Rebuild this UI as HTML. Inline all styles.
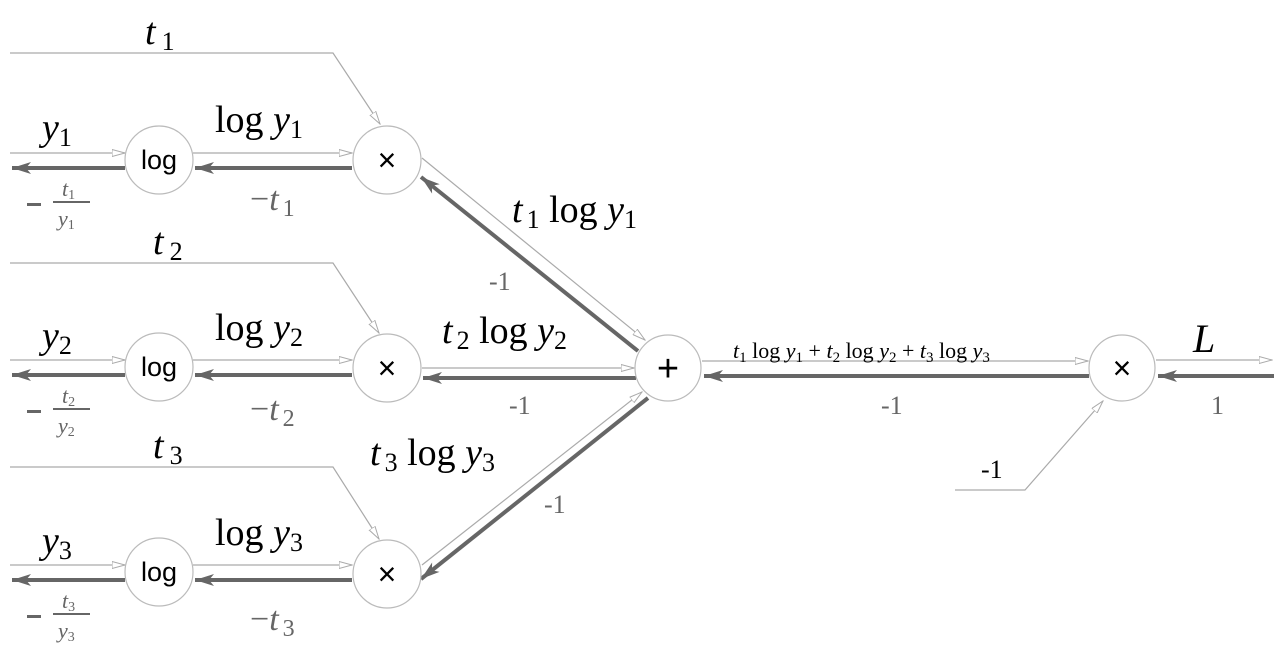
<!DOCTYPE html>
<html><head><meta charset="utf-8"><style>
html,body{margin:0;padding:0;background:#fff}
svg{display:block}
.m{font-family:"Liberation Serif",serif;font-style:italic}
.r{font-family:"Liberation Serif",serif;font-style:normal}
.s{font-family:"Liberation Sans",sans-serif}
</style></head><body>
<svg width="1288" height="660" viewBox="0 0 1288 660" xmlns="http://www.w3.org/2000/svg">
<defs>
<marker id="h" markerWidth="14" markerHeight="8" refX="13" refY="4" orient="auto" markerUnits="userSpaceOnUse"><path d="M0,0.5 L13,4 L0,7.5 Z" fill="#fff" stroke="#aaa" stroke-width="1"/></marker>
<marker id="f" markerWidth="20" markerHeight="12" refX="19" refY="6" orient="auto" markerUnits="userSpaceOnUse"><path d="M0,0 L19,6 L0,12 L5,6 Z" fill="#666"/></marker>
</defs>
<g fill="none" stroke="#aaa" stroke-width="1.2">
<line x1="10" y1="153" x2="125" y2="153" marker-end="url(#h)"/>
<line x1="10" y1="360" x2="125" y2="360" marker-end="url(#h)"/>
<line x1="10" y1="565" x2="125" y2="565" marker-end="url(#h)"/>
<line x1="193" y1="153" x2="352" y2="153" marker-end="url(#h)"/>
<line x1="193" y1="360" x2="352" y2="360" marker-end="url(#h)"/>
<line x1="193" y1="565" x2="352" y2="565" marker-end="url(#h)"/>
<polyline points="10,53 333,53 380,124" marker-end="url(#h)"/>
<polyline points="10,263 333,263 379,333" marker-end="url(#h)"/>
<polyline points="10,467 333,467 379,539" marker-end="url(#h)"/>
<line x1="422" y1="158" x2="645" y2="340" marker-end="url(#h)"/>
<line x1="422" y1="368" x2="634" y2="368" marker-end="url(#h)"/>
<line x1="422" y1="565" x2="642" y2="392" marker-end="url(#h)"/>
<line x1="702" y1="361" x2="1088" y2="361" marker-end="url(#h)"/>
<line x1="1156" y1="360" x2="1272" y2="360" marker-end="url(#h)"/>
<polyline points="955,490 1025,490 1103,401" marker-end="url(#h)"/>
</g>
<g fill="none" stroke="#666" stroke-width="4">
<line x1="125" y1="168" x2="12" y2="168" marker-end="url(#f)"/>
<line x1="125" y1="375" x2="12" y2="375" marker-end="url(#f)"/>
<line x1="125" y1="580" x2="12" y2="580" marker-end="url(#f)"/>
<line x1="352" y1="168" x2="195" y2="168" marker-end="url(#f)"/>
<line x1="352" y1="375" x2="195" y2="375" marker-end="url(#f)"/>
<line x1="352" y1="580" x2="195" y2="580" marker-end="url(#f)"/>
<line x1="638" y1="351" x2="421" y2="177" marker-end="url(#f)"/>
<line x1="636" y1="378" x2="423" y2="378" marker-end="url(#f)"/>
<line x1="648" y1="398" x2="421" y2="579" marker-end="url(#f)"/>
<line x1="1089" y1="376" x2="704" y2="376" marker-end="url(#f)"/>
<line x1="1274" y1="376" x2="1158" y2="376" marker-end="url(#f)"/>
</g>
<g fill="#fff" stroke="#bbb" stroke-width="1.2">
<circle cx="159" cy="160" r="34"/><circle cx="159" cy="367" r="34"/><circle cx="159" cy="572" r="34"/>
<circle cx="387" cy="160" r="34"/><circle cx="387" cy="368" r="34"/><circle cx="387" cy="574" r="34"/>
<circle cx="668" cy="368" r="33"/><circle cx="1122" cy="368" r="33"/>
</g>
<g class="s" font-size="27" text-anchor="middle" fill="#000">
<text x="159" y="169">log</text><text x="159" y="376">log</text><text x="159" y="581">log</text>
<text x="387" y="171" font-size="32">×</text><text x="387" y="379" font-size="32">×</text><text x="387" y="585" font-size="32">×</text>
<text x="668" y="381" font-size="38">+</text><text x="1122" y="379" font-size="32">×</text>
</g>
<g fill="#000" font-size="38">
<text x="145" y="44" class="m">t<tspan class="r" font-size="26" dx="6" dy="6">1</tspan></text>
<text x="153" y="254" class="m">t<tspan class="r" font-size="26" dx="6" dy="6">2</tspan></text>
<text x="153" y="458" class="m">t<tspan class="r" font-size="26" dx="6" dy="6">3</tspan></text>
<text x="42" y="140" class="m">y<tspan class="r" font-size="26" dy="6">1</tspan></text>
<text x="42" y="348" class="m">y<tspan class="r" font-size="26" dy="6">2</tspan></text>
<text x="42" y="553" class="m">y<tspan class="r" font-size="26" dy="6">3</tspan></text>
<text x="215" y="132" class="r">log <tspan class="m">y</tspan><tspan class="r" font-size="26" dy="6">1</tspan></text>
<text x="215" y="340" class="r">log <tspan class="m">y</tspan><tspan class="r" font-size="26" dy="6">2</tspan></text>
<text x="215" y="545" class="r">log <tspan class="m">y</tspan><tspan class="r" font-size="26" dy="6">3</tspan></text>
<text x="512" y="222" class="m">t<tspan class="r" font-size="26" dx="4" dy="6">1</tspan><tspan class="r" dy="-6"> log </tspan>y<tspan class="r" font-size="26" dy="6">1</tspan></text>
<text x="442" y="343" class="m">t<tspan class="r" font-size="26" dx="4" dy="6">2</tspan><tspan class="r" dy="-6"> log </tspan>y<tspan class="r" font-size="26" dy="6">2</tspan></text>
<text x="370" y="465" class="m">t<tspan class="r" font-size="26" dx="4" dy="6">3</tspan><tspan class="r" dy="-6"> log </tspan>y<tspan class="r" font-size="26" dy="6">3</tspan></text>
<text x="1193" y="352" class="m" font-size="40">L</text>
</g>
<text x="733" y="358" class="m" font-size="22" fill="#000">t<tspan class="r" font-size="15" dy="4">1</tspan><tspan class="r" dy="-4"> log </tspan>y<tspan class="r" font-size="15" dy="4">1</tspan><tspan class="r" dy="-4"> + </tspan>t<tspan class="r" font-size="15" dy="4">2</tspan><tspan class="r" dy="-4"> log </tspan>y<tspan class="r" font-size="15" dy="4">2</tspan><tspan class="r" dy="-4"> + </tspan>t<tspan class="r" font-size="15" dy="4">3</tspan><tspan class="r" dy="-4"> log </tspan>y<tspan class="r" font-size="15" dy="4">3</tspan></text>
<g fill="#666">
<text x="250" y="210" class="m" font-size="34"><tspan class="r">−</tspan>t<tspan class="r" font-size="24" dx="4" dy="6">1</tspan></text>
<text x="250" y="420" class="m" font-size="34"><tspan class="r">−</tspan>t<tspan class="r" font-size="24" dx="4" dy="6">2</tspan></text>
<text x="250" y="630" class="m" font-size="34"><tspan class="r">−</tspan>t<tspan class="r" font-size="24" dx="4" dy="6">3</tspan></text>
<text class="r" font-size="26" x="489" y="290">-1</text><text class="r" font-size="26" x="509" y="414">-1</text><text class="r" font-size="26" x="544" y="513">-1</text>
<text class="r" font-size="26" x="881" y="414">-1</text><text class="r" font-size="26" x="1211" y="414">1</text>
<text class="r" font-size="26" fill="#000" x="981" y="478">-1</text>
<g>
<rect x="27" y="203" width="14" height="3"/><rect x="53" y="201" width="37" height="2"/>
<text x="62" y="196" class="m" font-size="22">t<tspan class="r" font-size="14" dy="3">1</tspan></text>
<text x="58" y="226" class="m" font-size="22">y<tspan class="r" font-size="14" dy="3">1</tspan></text>
<rect x="27" y="410" width="14" height="3"/><rect x="53" y="408" width="37" height="2"/>
<text x="62" y="403" class="m" font-size="22">t<tspan class="r" font-size="14" dy="3">2</tspan></text>
<text x="58" y="433" class="m" font-size="22">y<tspan class="r" font-size="14" dy="3">2</tspan></text>
<rect x="27" y="615" width="14" height="3"/><rect x="53" y="613" width="37" height="2"/>
<text x="62" y="608" class="m" font-size="22">t<tspan class="r" font-size="14" dy="3">3</tspan></text>
<text x="58" y="638" class="m" font-size="22">y<tspan class="r" font-size="14" dy="3">3</tspan></text>
</g>
</g>
</svg>
</body></html>
